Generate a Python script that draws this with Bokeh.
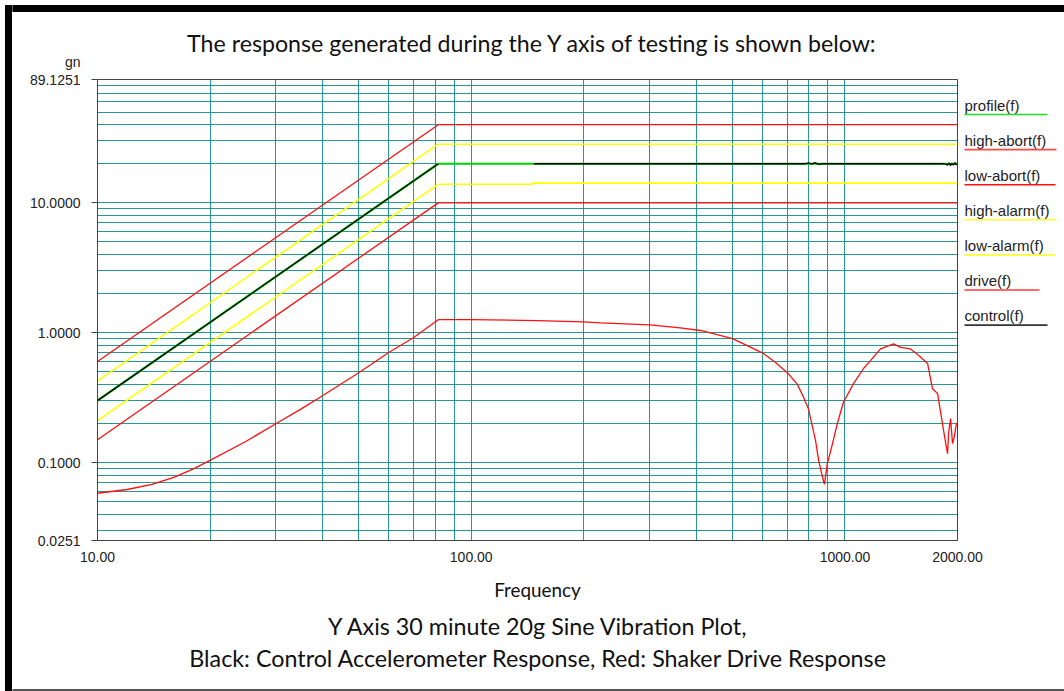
from bokeh.plotting import figure
from bokeh.layouts import row, column
from bokeh.models import FixedTicker, PrintfTickFormatter, Range1d
from bokeh.core.properties import value
from bokeh.embed import file_html
from bokeh.resources import INLINE

# ---------------- data ----------------
x_tick_vals = [10, 100, 1000, 2000]
y_tick_vals = [0.0251, 0.1, 1.0, 10.0, 89.1251]
x_grid_vals = [10, 20, 30, 40, 50, 60, 70, 80, 90,
               100, 200, 300, 400, 500, 600, 700, 800, 900, 1000, 2000]
y_grid_vals = [0.03, 0.04, 0.05, 0.06, 0.07, 0.08, 0.09,
               0.1, 0.2, 0.3, 0.4, 0.5, 0.6, 0.7, 0.8, 0.9,
               1, 2, 3, 4, 5, 6, 7, 8, 9,
               10, 20, 30, 40, 50, 60, 70, 80]

profile_f = [10, 81.6, 2000]
profile_g = [0.30, 20.0, 20.0]

high_abort_f = [10, 81.6, 2000]
high_abort_g = [0.60, 40.0, 40.0]

low_abort_f = [10, 81.6, 2000]
low_abort_g = [0.15, 10.0, 10.0]

high_alarm_f = [10, 81.6, 2000]
high_alarm_g = [0.424, 28.3, 28.3]

low_alarm_f = [10, 81.6, 146, 146, 2000]
low_alarm_g = [0.21, 13.9, 13.9, 14.2, 14.2]

control_f = [10, 81.6, float("nan"), 147, 780, 800, 815, 830, 850, 870,
             1850, 1880, 1900, 1915, 1930, 1950, 1970, 1985, 2000]
control_g = [0.30, 20.0, float("nan"), 20.0, 20.0, 20.3, 19.9, 20.4, 19.8, 20.0,
             20.0, 19.5, 20.3, 19.3, 20.2, 19.5, 20.4, 19.6, 20.1]

drive_f = [10, 12, 14, 16, 18, 20, 25, 30, 35, 40, 50, 60, 70, 81.6, 100, 150, 200,
           222, 301, 362, 411, 500, 601, 652, 702, 746, 774, 798, 834, 850, 871,
           881, 897, 926, 954, 990, 1054, 1121, 1170, 1245, 1349, 1408, 1497, 1573,
           1663, 1715, 1769, 1813, 1858, 1881, 1893, 1916, 1940, 1963, 1987, 2000]
drive_g = [0.058, 0.062, 0.068, 0.077, 0.089, 0.104, 0.146, 0.199, 0.258, 0.327,
           0.492, 0.70, 0.915, 1.26, 1.26, 1.24, 1.21, 1.19, 1.15, 1.09, 1.04, 0.90,
           0.70, 0.59, 0.49, 0.40, 0.32, 0.26, 0.148, 0.104, 0.077, 0.068, 0.098,
           0.14, 0.20, 0.29, 0.405, 0.53, 0.61, 0.75, 0.82, 0.77, 0.75, 0.67, 0.58,
           0.37, 0.34, 0.22, 0.143, 0.117, 0.167, 0.218, 0.14, 0.16, 0.20, 0.20]

legend_names = ["profile(f)", "high-abort(f)", "low-abort(f)", "high-alarm(f)",
                "low-alarm(f)", "drive(f)", "control(f)"]
legend_colors = ["#22dd22", "#ff4a4a", "#ff1010", "#ffff33", "#ffff33", "#ff3a3a", "#333333"]

title_text = "The response generated during the Y axis of testing is shown below:"
y_unit_text = "gn"
x_title_text = "Frequency"
caption_1 = "Y Axis 30 minute 20g Sine Vibration Plot,"
caption_2 = "Black: Control Accelerometer Response, Red: Shaker Drive Response"

# ---------------- layout geometry (canvas pixels) ----------------
W, H = 1064, 691
STRIP = 12            # left black band strip
TOP_H = 72            # title area
MAIN_W, MAIN_H = 946, 475
LEG_W = W - STRIP - MAIN_W
AX_H = 20
TXT_H = H - TOP_H - MAIN_H - AX_H

tick_font = "Liberation Sans"
cap_font = "Lato"


def no_align(f):
    try:
        f.frame_align = False
    except Exception:
        pass
    return f


def blank_fig(w, h, x0, x1, y_top, y_bot):
    f = figure(width=w, height=h, x_range=Range1d(x0, x1), y_range=Range1d(y_bot, y_top),
               x_axis_type=None, y_axis_type=None, output_backend="svg",
               toolbar_location=None, min_border_left=0, min_border_right=0,
               min_border_top=0, min_border_bottom=0)
    f.outline_line_color = None
    f.background_fill_color = "white"
    f.border_fill_color = "white"
    return no_align(f)


def put_text(f, txt, cx, cy, size, font, align="center", color="#111111"):
    f.text(x=[cx], y=[cy], text=[txt], text_align=align, text_baseline="middle",
           text_font=value(font), text_font_size=value(size), text_color=color)


# left black band
strip = blank_fig(STRIP, H, 0, STRIP, 0, H)
strip.quad(left=[5], right=[11], top=[5], bottom=[H], color="#000000")
strip.quad(left=[5], right=[STRIP], top=[5], bottom=[11], color="#000000")

# title area
top = blank_fig(W - STRIP, TOP_H, STRIP, W, 0, TOP_H)
top.quad(left=[STRIP], right=[W], top=[5], bottom=[11], color="#000000")
put_text(top, title_text, 532, 42, "23.2px", cap_font)
put_text(top, y_unit_text, 80, 61, "14px", tick_font, align="right", color="#222222")

# main chart
p = figure(width=MAIN_W, height=MAIN_H, x_axis_type="log", y_axis_type="log",
           x_range=Range1d(10, 2000), y_range=Range1d(0.0251, 89.1251),
           output_backend="svg", toolbar_location=None,
           min_border_left=85, min_border_right=1, min_border_top=7, min_border_bottom=7)
no_align(p)
p.background_fill_color = "white"
p.border_fill_color = "white"
p.outline_line_color = "#444444"
p.xaxis.visible = False
p.yaxis.ticker = FixedTicker(ticks=y_tick_vals)
p.yaxis.formatter = PrintfTickFormatter(format="%.4f")
p.yaxis.major_label_text_font = tick_font
p.yaxis.major_label_text_font_size = "14px"
p.yaxis.major_label_text_color = "#222222"
p.yaxis.axis_line_color = "#444444"
p.yaxis.major_tick_line_color = "#444444"
p.yaxis.minor_tick_line_color = None
p.yaxis.major_tick_in = 0
p.yaxis.major_tick_out = 6
p.yaxis.major_label_standoff = 11

p.xgrid.ticker = FixedTicker(ticks=x_grid_vals)
p.ygrid.ticker = FixedTicker(ticks=y_grid_vals)
for g in (p.xgrid[0], p.ygrid[0]):
    g.grid_line_color = "#108a8a"
    g.grid_line_width = 1
    g.grid_line_alpha = 0.9

lw = 1.3
p.line(profile_f, profile_g, line_color="#00d000", line_width=2.2)
p.line(high_abort_f, high_abort_g, line_color="#ff1010", line_width=lw)
p.line(low_abort_f, low_abort_g, line_color="#ff1010", line_width=lw)
p.line(high_alarm_f, high_alarm_g, line_color="#ffff00", line_width=lw + 0.3)
p.line(low_alarm_f, low_alarm_g, line_color="#ffff00", line_width=lw + 0.3)
p.line(drive_f, drive_g, line_color="#ff1010", line_width=lw)
p.line(control_f, control_g, line_color="#000000", line_width=lw)

# legend column
leg = blank_fig(LEG_W, MAIN_H, STRIP + MAIN_W, W, TOP_H, TOP_H + MAIN_H)
legend_ends = [1047, 1056, 1055, 1056, 1055, 1039, 1047]
for i, (name, col) in enumerate(zip(legend_names, legend_colors)):
    put_text(leg, name, 964, 105 + 35.05 * i, "15px", tick_font, align="left", color="#222222")
    uy = 114 + 35.1 * i
    leg.segment(x0=[964], y0=[uy], x1=[legend_ends[i]], y1=[uy], line_color=col, line_width=1.6)

# frequency axis (shares the chart's log x range)
ax = figure(width=W - STRIP, height=AX_H, x_axis_type="log", y_axis_type=None,
            x_range=p.x_range, y_range=Range1d(0, 1), output_backend="svg",
            toolbar_location=None, min_border_left=85, min_border_right=W - 957,
            min_border_top=0, min_border_bottom=AX_H - 1)
no_align(ax)
ax.outline_line_color = None
ax.background_fill_color = "white"
ax.border_fill_color = "white"
ax.xgrid.visible = False
ax.xaxis.ticker = FixedTicker(ticks=x_tick_vals)
ax.xaxis.formatter = PrintfTickFormatter(format="%.2f")
ax.xaxis.major_label_text_font = tick_font
ax.xaxis.major_label_text_font_size = "14px"
ax.xaxis.major_label_text_color = "#222222"
ax.xaxis.axis_line_color = None
ax.xaxis.major_tick_line_color = None
ax.xaxis.minor_tick_line_color = None
ax.xaxis.major_tick_in = 0
ax.xaxis.major_tick_out = 0
ax.xaxis.major_label_standoff = 3

# bottom texts
y0 = TOP_H + MAIN_H + AX_H
bot = blank_fig(W - STRIP, TXT_H, STRIP, W, y0, H)
put_text(bot, x_title_text, 537, 589, "18.9px", cap_font)
put_text(bot, caption_1, 538, 625, "23.3px", cap_font)
put_text(bot, caption_2, 538, 657, "23.3px", cap_font)
bot.quad(left=[STRIP], right=[W], top=[689], bottom=[H], color="#555555")

layout = row(strip, column(top, row(p, leg), ax, bot))
open("out.html", "w").write(file_html(layout, INLINE))
